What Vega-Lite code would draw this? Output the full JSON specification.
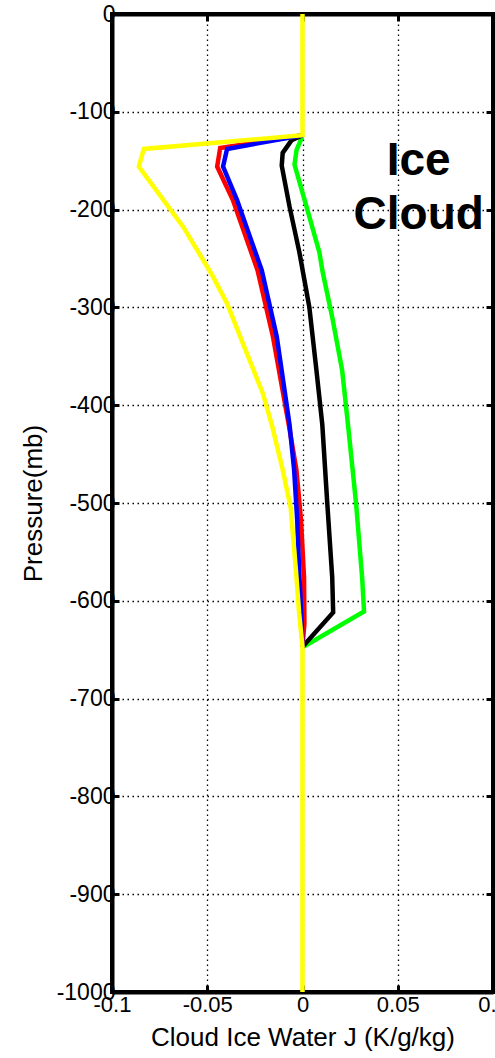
{
  "$schema": "https://vega.github.io/schema/vega-lite/v6.json",
  "autosize": {"type": "none"},
  "padding": {"left": 112, "top": 14, "right": 2, "bottom": 66},
  "width": 381,
  "height": 978,
  "background": "white",
  "config": {
    "view": {"stroke": "black", "strokeWidth": 4},
    "font": "Liberation Sans",
    "axis": {
      "domainColor": "black", "domainWidth": 4,
      "tickColor": "black", "tickWidth": 3, "tickSize": -7,
      "gridColor": "black", "gridDash": [1.5, 3.5], "gridWidth": 1.3, "gridOpacity": 1,
      "labelColor": "black", "labelFont": "Liberation Sans", "labelFontSize": 22,
      "labelFlush": false, "labelOverlap": false, "labelBound": false,
      "titleColor": "black", "titleFont": "Liberation Sans", "titleFontSize": 26, "titleFontWeight": "normal"
    }
  },
  "datasets": {
    "profiles": [
      {"series": "yellow", "i": 0, "x": 0, "p": 0},
      {"series": "yellow", "i": 1, "x": 0, "p": -124},
      {"series": "yellow", "i": 2, "x": -0.0833, "p": -138},
      {"series": "yellow", "i": 3, "x": -0.0859, "p": -156},
      {"series": "yellow", "i": 4, "x": -0.0625, "p": -218},
      {"series": "yellow", "i": 5, "x": -0.0474, "p": -267},
      {"series": "yellow", "i": 6, "x": -0.0396, "p": -296},
      {"series": "yellow", "i": 7, "x": -0.0292, "p": -347},
      {"series": "yellow", "i": 8, "x": -0.0208, "p": -388},
      {"series": "yellow", "i": 9, "x": -0.0161, "p": -420},
      {"series": "yellow", "i": 10, "x": -0.0104, "p": -466},
      {"series": "yellow", "i": 11, "x": -0.0062, "p": -505},
      {"series": "yellow", "i": 12, "x": -0.0034, "p": -570},
      {"series": "yellow", "i": 13, "x": -0.0018, "p": -612},
      {"series": "yellow", "i": 14, "x": 0, "p": -647},
      {"series": "yellow", "i": 15, "x": 0, "p": -1000},

      {"series": "red", "i": 0, "x": 0, "p": -124},
      {"series": "red", "i": 1, "x": -0.0432, "p": -137},
      {"series": "red", "i": 2, "x": -0.0448, "p": -156},
      {"series": "red", "i": 3, "x": -0.0366, "p": -190},
      {"series": "red", "i": 4, "x": -0.0236, "p": -262},
      {"series": "red", "i": 5, "x": -0.0155, "p": -330},
      {"series": "red", "i": 6, "x": -0.0072, "p": -420},
      {"series": "red", "i": 7, "x": -0.0032, "p": -466},
      {"series": "red", "i": 8, "x": -0.0008, "p": -517},
      {"series": "red", "i": 9, "x": 0.0008, "p": -576},
      {"series": "red", "i": 10, "x": 0.001, "p": -623},
      {"series": "red", "i": 11, "x": 0, "p": -647},

      {"series": "blue", "i": 0, "x": 0, "p": -124},
      {"series": "blue", "i": 1, "x": -0.0396, "p": -138},
      {"series": "blue", "i": 2, "x": -0.0417, "p": -156},
      {"series": "blue", "i": 3, "x": -0.0344, "p": -190},
      {"series": "blue", "i": 4, "x": -0.0214, "p": -262},
      {"series": "blue", "i": 5, "x": -0.0135, "p": -330},
      {"series": "blue", "i": 6, "x": -0.0068, "p": -420},
      {"series": "blue", "i": 7, "x": -0.0044, "p": -466},
      {"series": "blue", "i": 8, "x": -0.0028, "p": -517},
      {"series": "blue", "i": 9, "x": -0.0016, "p": -576},
      {"series": "blue", "i": 10, "x": -0.0006, "p": -615},
      {"series": "blue", "i": 11, "x": 0, "p": -647},

      {"series": "black", "i": 0, "x": 0, "p": -124},
      {"series": "black", "i": 1, "x": -0.0057, "p": -129},
      {"series": "black", "i": 2, "x": -0.0104, "p": -142},
      {"series": "black", "i": 3, "x": -0.0109, "p": -155},
      {"series": "black", "i": 4, "x": -0.0068, "p": -197},
      {"series": "black", "i": 5, "x": -0.0016, "p": -244},
      {"series": "black", "i": 6, "x": 0.001, "p": -272},
      {"series": "black", "i": 7, "x": 0.0036, "p": -300},
      {"series": "black", "i": 8, "x": 0.0073, "p": -364},
      {"series": "black", "i": 9, "x": 0.0104, "p": -420},
      {"series": "black", "i": 10, "x": 0.013, "p": -500},
      {"series": "black", "i": 11, "x": 0.0156, "p": -576},
      {"series": "black", "i": 12, "x": 0.0161, "p": -612},
      {"series": "black", "i": 13, "x": 0, "p": -647},

      {"series": "green", "i": 0, "x": 0, "p": -124},
      {"series": "green", "i": 1, "x": -0.0005, "p": -127},
      {"series": "green", "i": 2, "x": -0.0031, "p": -139},
      {"series": "green", "i": 3, "x": -0.0042, "p": -154},
      {"series": "green", "i": 4, "x": 0.0021, "p": -197},
      {"series": "green", "i": 5, "x": 0.0089, "p": -244},
      {"series": "green", "i": 6, "x": 0.0104, "p": -262},
      {"series": "green", "i": 7, "x": 0.0156, "p": -310},
      {"series": "green", "i": 8, "x": 0.0208, "p": -364},
      {"series": "green", "i": 9, "x": 0.024, "p": -422},
      {"series": "green", "i": 10, "x": 0.0281, "p": -500},
      {"series": "green", "i": 11, "x": 0.0313, "p": -576},
      {"series": "green", "i": 12, "x": 0.0323, "p": -611},
      {"series": "green", "i": 13, "x": 0.0005, "p": -647}
    ],
    "labels": [
      {"label": "Ice", "x": 0.061, "p": -150},
      {"label": "Cloud", "x": 0.061, "p": -206}
    ]
  },
  "layer": [
    {
      "data": {"name": "profiles"},
      "transform": [{"filter": "datum.series === 'green'"}],
      "mark": {"type": "line", "color": "#00ff00", "strokeWidth": 4.5, "strokeJoin": "miter", "clip": true},
      "encoding": {
        "x": {"field": "x", "type": "quantitative", "scale": {"domain": [-0.1, 0.1], "nice": false, "zero": false},
              "axis": {"values": [-0.1, -0.05, 0, 0.05, 0.1], "grid": true, "title": "Cloud Ice Water J (K/g/kg)", "labelPadding": 9, "titlePadding": 9,
                       "labelExpr": "'' + datum.value"}},
        "y": {"field": "p", "type": "quantitative", "scale": {"domain": [-1000, 0], "nice": false, "zero": false},
              "axis": {"values": [0, -100, -200, -300, -400, -500, -600, -700, -800, -900, -1000], "grid": true, "title": "Pressure(mb)", "labelPadding": 4, "titlePadding": 10, "labelFontSize": 23,
                       "labelExpr": "'' + datum.value"}},
        "order": {"field": "i", "type": "quantitative"}
      }
    },
    {
      "data": {"name": "profiles"},
      "transform": [{"filter": "datum.series === 'black'"}],
      "mark": {"type": "line", "color": "black", "strokeWidth": 4.5, "strokeJoin": "miter", "clip": true},
      "encoding": {
        "x": {"field": "x", "type": "quantitative", "axis": null},
        "y": {"field": "p", "type": "quantitative", "axis": null},
        "order": {"field": "i", "type": "quantitative"}
      }
    },
    {
      "data": {"name": "profiles"},
      "transform": [{"filter": "datum.series === 'red'"}],
      "mark": {"type": "line", "color": "#ff0000", "strokeWidth": 4.5, "strokeJoin": "miter", "clip": true},
      "encoding": {
        "x": {"field": "x", "type": "quantitative", "axis": null},
        "y": {"field": "p", "type": "quantitative", "axis": null},
        "order": {"field": "i", "type": "quantitative"}
      }
    },
    {
      "data": {"name": "profiles"},
      "transform": [{"filter": "datum.series === 'blue'"}],
      "mark": {"type": "line", "color": "#0000ff", "strokeWidth": 4.5, "strokeJoin": "miter", "clip": true},
      "encoding": {
        "x": {"field": "x", "type": "quantitative", "axis": null},
        "y": {"field": "p", "type": "quantitative", "axis": null},
        "order": {"field": "i", "type": "quantitative"}
      }
    },
    {
      "data": {"name": "profiles"},
      "transform": [{"filter": "datum.series === 'yellow'"}],
      "mark": {"type": "line", "color": "#ffff00", "strokeWidth": 4.5, "strokeJoin": "miter", "clip": true},
      "encoding": {
        "x": {"field": "x", "type": "quantitative", "axis": null},
        "y": {"field": "p", "type": "quantitative", "axis": null},
        "order": {"field": "i", "type": "quantitative"}
      }
    },
    {
      "data": {"name": "labels"},
      "mark": {"type": "text", "font": "Liberation Sans", "fontWeight": "bold", "fontSize": 46, "color": "black", "align": "center", "baseline": "middle"},
      "encoding": {
        "x": {"field": "x", "type": "quantitative", "axis": {"orient": "top", "values": [-0.05, 0, 0.05], "labels": false, "grid": false, "title": null}},
        "y": {"field": "p", "type": "quantitative", "axis": {"orient": "right", "values": [-100, -200, -300, -400, -500, -600, -700, -800, -900], "labels": false, "grid": false, "title": null}},
        "text": {"field": "label"}
      }
    }
  ],
  "resolve": {"axis": {"x": "independent", "y": "independent"}}
}
